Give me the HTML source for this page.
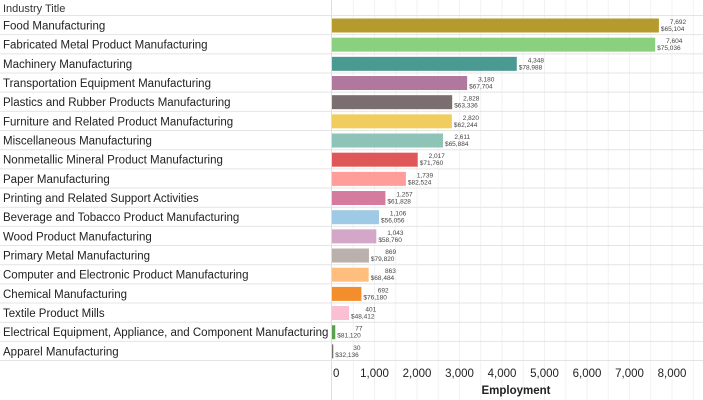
<!DOCTYPE html>
<html><head><meta charset="utf-8"><style>
html,body{margin:0;padding:0;background:#fff;width:703px;height:400px;overflow:hidden}
svg text{font-family:"Liberation Sans",sans-serif}
</style></head><body>
<svg id="chart" width="703" height="400" xmlns="http://www.w3.org/2000/svg"></svg>
<script>
const categories=["Food Manufacturing","Fabricated Metal Product Manufacturing","Machinery Manufacturing","Transportation Equipment Manufacturing","Plastics and Rubber Products Manufacturing","Furniture and Related Product Manufacturing","Miscellaneous Manufacturing","Nonmetallic Mineral Product Manufacturing","Paper Manufacturing","Printing and Related Support Activities","Beverage and Tobacco Product Manufacturing","Wood Product Manufacturing","Primary Metal Manufacturing","Computer and Electronic Product Manufacturing","Chemical Manufacturing","Textile Product Mills","Electrical Equipment, Appliance, and Component Manufacturing","Apparel Manufacturing"];
const employment=[7692,7604,4348,3180,2828,2820,2611,2017,1739,1257,1106,1043,869,863,692,401,77,30];
const wages=[65104,75036,78988,67704,63336,62244,65884,71760,82524,61828,56056,58760,79820,68484,76180,48412,81120,32136];
const colors=["#b59a2e","#8bd07e","#4b9a92","#b0789f","#7a6e6e","#f1cd60","#8ec3b7","#e05759","#ff9d9a","#d57b9d","#9fcae5","#d4a6c8","#bab0ac","#ffbe7d","#f28e2b","#fabfd2","#59a14f","#79706e"];
const ticks=[0,1000,2000,3000,4000,5000,6000,7000,8000];
const svg=document.getElementById('chart');
const NS='http://www.w3.org/2000/svg';
const x0=332,scale=0.0425,top0=15.5,rowH=19.17;
const xs=v=>x0+v*scale;
const ys=i=>top0+i*rowH;
function mk(tag,attrs,txt){const e=document.createElementNS(NS,tag);for(const k in attrs)e.setAttribute(k,attrs[k]);if(txt!=null)e.textContent=txt;svg.appendChild(e);return e;}
// grid
for(let v=500;v<=8500;v+=500){const g=mk('line',{x1:xs(v),x2:xs(v),y1:0,y2:400,stroke:'#f2f2f2','stroke-width':1});

}
const h=mk('text',{x:3,y:12,'font-size':11,fill:'#333'},'Industry Title');


mk('line',{x1:331.5,x2:331.5,y1:0,y2:400,stroke:'#ddd'});
for(let i=0;i<=categories.length;i++){const l=mk('line',{x1:0,x2:703,y1:ys(i),y2:ys(i),stroke:'#e4e4e4'});

}
categories.forEach((c,i)=>{
const y=ys(i);
const t=mk('text',{x:3,y:y+14,'font-size':11.5,fill:'#222'},c);


const b=mk('rect',{x:x0,y:y+3,width:Math.max(1,xs(employment[i])-x0),height:14,fill:colors[i]});


const ex=xs(employment[i])+2;
const w='$'+wages[i].toLocaleString('en-US');
const wt=mk('text',{x:ex,y:y+15.5,'font-size':6.5,fill:'#444'},w);


const et=mk('text',{x:ex+w.length*3.6,y:y+8.5,'font-size':6.5,fill:'#444','text-anchor':'end'},employment[i].toLocaleString('en-US'));


});
ticks.forEach(v=>{const t=mk('text',{x:v===0?xs(v)+1:xs(v),y:377,'font-size':11.5,fill:'#222','text-anchor':v===0?'start':'middle'},v.toLocaleString('en-US'));

});
const at=mk('text',{x:516,y:394,'font-size':11.5,'font-weight':'bold',fill:'#222','text-anchor':'middle'},'Employment');


</script>
</body></html>
